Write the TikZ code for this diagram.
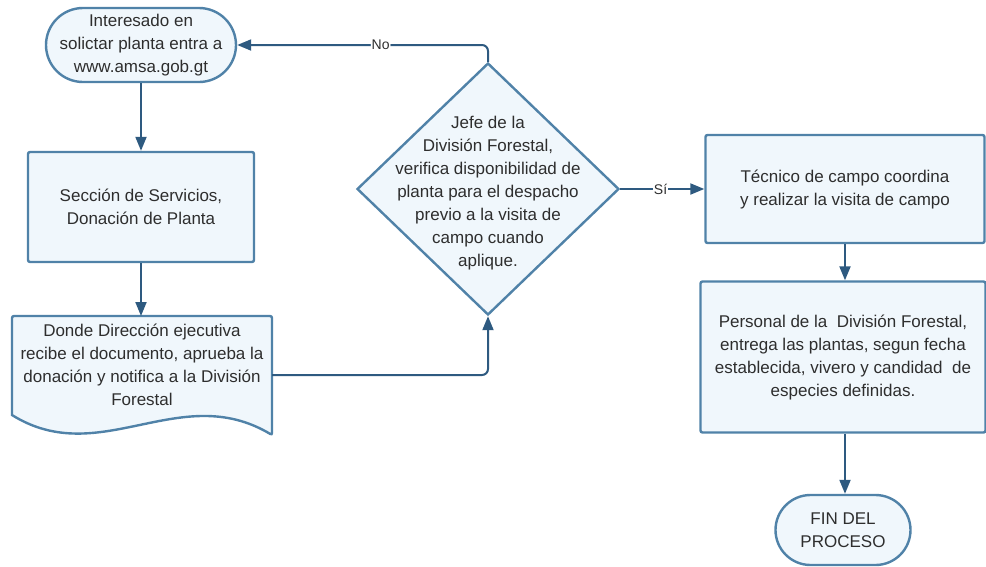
\documentclass[tikz,border=0pt]{standalone}
\usepackage{fontspec}
\setmainfont{Liberation Sans}
\usetikzlibrary{arrows.meta,shapes.geometric}
\definecolor{edgec}{HTML}{5082A8}
\definecolor{arrc}{HTML}{2E5A80}
\definecolor{fillb}{HTML}{F0F7FC}
\definecolor{txtc}{HTML}{2E2E2E}
\begin{document}
\begin{tikzpicture}[x=1pt,y=-1pt,
  every node/.style={font=\fontsize{17}{23}\selectfont, text=txtc, align=center},
  shapebox/.style={draw=edgec, fill=fillb, line width=2.4pt, inner sep=0pt},
  term/.style={shapebox},
  conn/.style={draw=arrc, line width=2pt, -{Triangle[length=14pt,width=11pt]}},
  lbl/.style={fill=white, inner sep=1pt, font=\fontsize{14}{16}\selectfont}
]
\useasboundingbox (0,0) rectangle (986,566);

\node[term, minimum width=190pt, minimum height=74pt, rounded corners=37pt] (start) at (141,45)
  {Interesado en\\solictar planta entra a\\www.amsa.gob.gt};

\node[shapebox, minimum width=226pt, minimum height=110pt, rounded corners=2pt] (serv) at (141,207)
  {Sección de Servicios,\\Donación de Planta};

% document shape
\draw[draw=edgec, fill=fillb, line width=2.4pt, rounded corners=2pt]
  (12,415) -- (12,316) -- (272,316) -- (272,435)
  [sharp corners] .. controls (180,380) and (100,470) .. (12,415) -- cycle;
\node[minimum width=260pt, minimum height=100pt, inner sep=0pt] (doc) at (142,365)
  {Donde Dirección ejecutiva\\recibe el documento, aprueba la\\donación y notifica a la División\\Forestal};

% decision
\node[shapebox, diamond, minimum width=262pt, minimum height=252pt] (dia) at (488,189) {};
\node (diatext) at (488,193)
  {Jefe de la\\División Forestal,\\verifica disponibilidad de\\planta para el despacho\\previo a la visita de\\campo cuando\\aplique.};

\node[shapebox, minimum width=279pt, minimum height=108pt, rounded corners=2pt] (tec) at (845,189)
  {Técnico de campo coordina\\y realizar la visita de campo};

\node[shapebox, minimum width=285pt, minimum height=151pt, rounded corners=2pt] (pers) at (843,357)
  {Personal de la \ División Forestal,\\entrega las plantas, segun fecha\\establecida, vivero y candidad \ de\\especies definidas.};

\node[term, minimum width=135pt, minimum height=70pt, rounded corners=35pt] (fin) at (843,530)
  {FIN DEL\\PROCESO};

% connectors
\draw[conn] (start.south) -- (serv.north);
\draw[conn] (serv.south) -- (serv.south |- 0,316);
\draw[conn, rounded corners=6pt] ([yshift=-10pt]doc.east) -| (dia.south);
\draw[conn, rounded corners=6pt] (dia.north) |- node[lbl, pos=0.714] {No} (start.east);
\draw[conn] (dia.east) -- node[lbl, pos=0.48] {Sí} (tec.west);
\draw[conn] (tec.south) -- (tec.south |- pers.north);
\draw[conn] (pers.south -| tec.south) -- (tec.south |- fin.north);
\end{tikzpicture}
\end{document}
